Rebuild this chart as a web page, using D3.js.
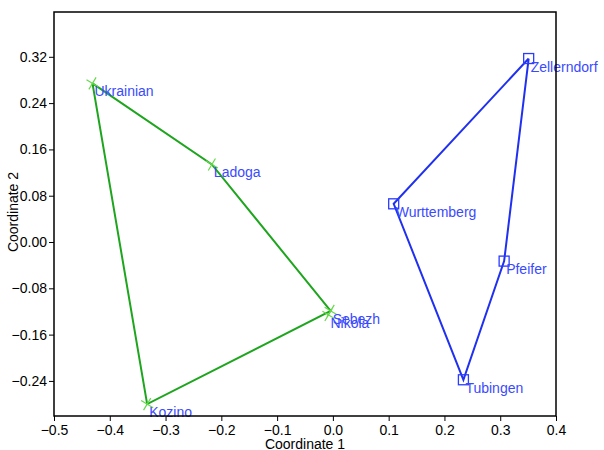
<!DOCTYPE html>
<html>
<head>
<meta charset="utf-8">
<script src="https://cdn.jsdelivr.net/npm/d3@7"></script>
<style>
  html, body { margin: 0; padding: 0; background: #fff; }
  svg { display: block; font-family: "Liberation Sans", Arial, sans-serif; }
</style>
</head>
<body>
<svg id="chart" width="604" height="450"></svg>
<script>
// Group 1 (crosses, green hull)
const greenNames = ["Ukrainian", "Ladoga", "Sebezh", "Nikola", "Kozino"];
const greenX = [-0.431, -0.217, -0.004, -0.008, -0.333];
const greenY = [0.274, 0.134, -0.119, -0.126, -0.280];
const greenHull = ["Ukrainian", "Ladoga", "Sebezh", "Kozino"];

// Group 2 (squares, blue hull)
const blueNames = ["Zellerndorf", "Wurttemberg", "Pfeifer", "Tubingen"];
const blueX = [0.351, 0.109, 0.307, 0.234];
const blueY = [0.317, 0.066, -0.033, -0.238];
const blueHull = ["Zellerndorf", "Wurttemberg", "Tubingen", "Pfeifer"];

const xTicks = [-0.5, -0.4, -0.3, -0.2, -0.1, 0.0, 0.1, 0.2, 0.3, 0.4];
const yTicks = [-0.24, -0.16, -0.08, 0.00, 0.08, 0.16, 0.24, 0.32];

const svg = d3.select("#chart");
const L = 54, R = 556, T = 12, B = 416;
const FS = 14;

const x = d3.scaleLinear().domain([-0.5, 0.4]).range([L, R]);
const y = d3.scaleLinear().domain([-0.3006, 0.3974]).range([B, T]);

const greenPts = greenNames.map((n, i) => ({ name: n, x: greenX[i], y: greenY[i] }));
const bluePts = blueNames.map((n, i) => ({ name: n, x: blueX[i], y: blueY[i] }));

const line = d3.line().x(d => x(d.x)).y(d => y(d.y));
const hullOf = (pts, order) => {
  const arr = order.map(n => pts.find(p => p.name === n));
  arr.push(arr[0]);
  return arr;
};

// Hull outlines
svg.append("path").datum(hullOf(greenPts, greenHull))
  .attr("d", line).attr("fill", "none")
  .attr("stroke", "#1ea51e").attr("stroke-width", 2);
svg.append("path").datum(hullOf(bluePts, blueHull))
  .attr("d", line).attr("fill", "none")
  .attr("stroke", "#2030f0").attr("stroke-width", 2);

// Cross markers
const cs = 6;
svg.append("g").selectAll("path").data(greenPts).join("path")
  .attr("d", d => {
    const cx = x(d.x), cy = y(d.y);
    return `M${cx - cs},${cy - cs * 0.6}L${cx + cs},${cy + cs * 0.6}M${cx - cs * 0.6},${cy + cs}L${cx + cs * 0.6},${cy - cs}`;
  })
  .attr("stroke", "#66d84a").attr("stroke-width", 1.2).attr("fill", "none");

// Square markers
const sq = 10;
svg.append("g").selectAll("rect").data(bluePts).join("rect")
  .attr("x", d => x(d.x) - sq / 2).attr("y", d => y(d.y) - sq / 2)
  .attr("width", sq).attr("height", sq)
  .attr("fill", "none").attr("stroke", "#2a3cff").attr("stroke-width", 1.3);

// Point labels
svg.append("g").selectAll("text").data(greenPts.concat(bluePts)).join("text")
  .attr("x", d => x(d.x) + 2).attr("y", d => y(d.y) + 13)
  .attr("fill", "#3a4aff").attr("font-size", FS)
  .text(d => d.name);

// Axes
const xAxis = d3.axisBottom(x).tickValues(xTicks).tickSize(5).tickSizeOuter(0)
  .tickPadding(4).tickFormat(d3.format(".1f"));
const yAxis = d3.axisLeft(y).tickValues(yTicks).tickSize(5).tickSizeOuter(0)
  .tickPadding(2).tickFormat(d3.format(".2f"));

const gx = svg.append("g").attr("transform", `translate(0,${B})`).call(xAxis);
const gy = svg.append("g").attr("transform", `translate(${L},0)`).call(yAxis);
[gx, gy].forEach(g => {
  g.select(".domain").remove();
  g.selectAll("line").attr("stroke", "#000");
  g.selectAll("text").attr("fill", "#000").attr("font-size", FS)
    .attr("font-family", "Liberation Sans, Arial, sans-serif");
});

// Frame
svg.append("rect").attr("x", L).attr("y", T)
  .attr("width", R - L).attr("height", B - T)
  .attr("fill", "none").attr("stroke", "#000").attr("stroke-width", 1.5);

// Axis titles
svg.append("text").attr("x", (L + R) / 2).attr("y", 449)
  .attr("text-anchor", "middle").attr("font-size", FS).attr("fill", "#000")
  .text("Coordinate 1");
svg.append("text").attr("transform", `translate(18,212) rotate(-90)`)
  .attr("text-anchor", "middle").attr("font-size", FS).attr("fill", "#000")
  .text("Coordinate 2");
</script>
</body>
</html>
